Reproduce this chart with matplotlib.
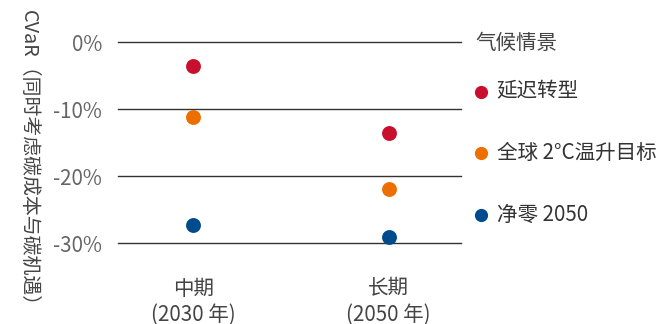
import matplotlib
matplotlib.use("Agg")
import matplotlib.pyplot as plt
from matplotlib.lines import Line2D

plt.rcParams['font.family'] = ['Noto Sans CJK SC', 'DejaVu Sans']

periods = ["中期\n(2030 年)", "长期\n(2050 年)"]
scenarios = ["延迟转型", "全球 2°C温升目标", "净零 2050"]
colors = ["#C8102E", "#ED6F00", "#004B8D"]
values = {
    "延迟转型": [-3.6, -13.6],
    "全球 2°C温升目标": [-11.2, -21.9],
    "净零 2050": [-27.3, -29.1],
}
yticks = [0, -10, -20, -30]
yticklabels = ["0%", "-10%", "-20%", "-30%"]
ylabel = "CVaR（同时考虑碳成本与碳机遇）"
legend_title = "气候情景"

W, H = 662, 324
fig = plt.figure(figsize=(W / 100, H / 100), dpi=100)
fig.patch.set_facecolor("white")

def fx(px):
    return px / W

def fy(py):
    return 1 - py / H

ax = fig.add_axes([fx(118), fy(243), fx(461) - fx(118), fy(42.3) - fy(243)])
ax.set_facecolor("none")
ax.set_ylim(-30, 0)
ax.set_xlim(-0.385, 1.37)

for t in yticks:
    ax.axhline(t, color="#333333", lw=1.0, zorder=1, clip_on=False)

x = list(range(len(periods)))
for name, c in zip(scenarios, colors):
    ax.scatter(x, values[name], s=115, color=c, zorder=3, clip_on=False, linewidths=0)

for s in ax.spines.values():
    s.set_visible(False)
ax.set_yticks(yticks)
ax.set_yticklabels(yticklabels)
ax.tick_params(axis="y", length=0, pad=11.5, labelsize=14.8, labelcolor="#666666")
ax.set_xticks(x)
ax.set_xticklabels(periods, linespacing=1.22)
ax.tick_params(axis="x", length=0, pad=25, labelsize=14.8, labelcolor="#444444")

fig.text(fx(28), fy(10), ylabel, rotation=-90, ha="center", va="top",
         fontsize=14.3, color="#444444")

# legend
fig.text(fx(475), fy(43), legend_title, ha="left", va="center", fontsize=14.8, color="#444444")
ys = [91.7, 153, 215]
for name, c, yy in zip(scenarios, colors, ys):
    fig.add_artist(Line2D([fx(480.7)], [fy(yy)], marker="o", markersize=9.5, color=c,
                          markeredgewidth=0, transform=fig.transFigure))
    fig.text(fx(496.7), fy(yy), name, ha="left", va="center", fontsize=14.8, color="#333333")

fig.savefig("out.png", dpi=100)
